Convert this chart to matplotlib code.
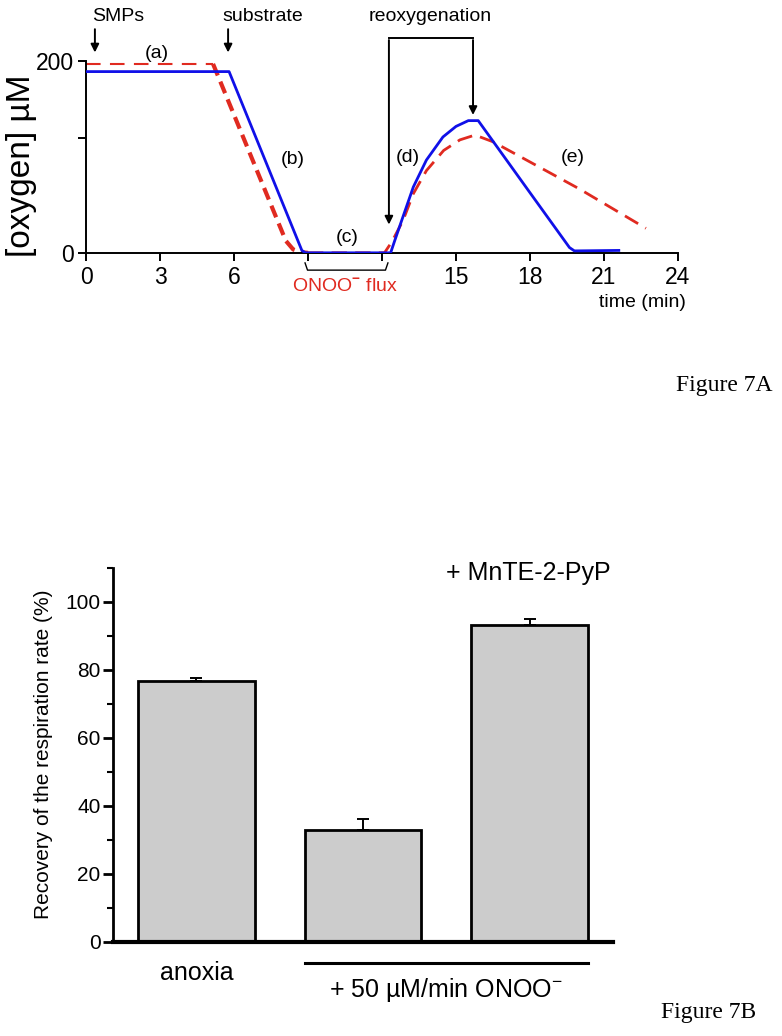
import numpy as np
import matplotlib
matplotlib.use("Agg")
from matplotlib import pyplot as plt

plt.rcParams["font.family"] = ["Liberation Sans", "DejaVu Sans"]
plt.rcParams["mathtext.fontset"] = "custom"
plt.rcParams["mathtext.rm"] = "Liberation Sans"
plt.rcParams["mathtext.bf"] = "Liberation Sans:bold"

# ---- Figure 7A: oxygen traces (time in min, oxygen in uM)
blue_t = [0, 5.8, 8.75, 8.9, 12.35, 12.5, 12.85, 13.27, 13.8, 14.47, 15.0, 15.5, 15.9, 18.0, 19.6, 19.8, 21.6]
blue_o2 = [189, 189, 3, 0.5, 0.5, 12, 38, 69, 97, 121, 132, 138, 138, 63, 6, 2.5, 3]

red_flat_t = [0, 5.15]
red_flat_o2 = [197, 197]
red_drop_t = [5.15, 8.1, 8.4, 8.7, 9.0]
red_drop_o2 = [197, 13, 4, 1.2, 0.5]
red_rest_t = [9.0, 12.1, 12.4, 12.85, 13.27, 13.8, 14.5, 15.16, 15.77, 16.5, 18.0, 20.0, 22.7]
red_rest_o2 = [0.5, 0.5, 12, 34, 62, 86, 107, 118, 123, 116, 95, 67, 26]

time_ticks = [0, 3, 6, 9, 12, 15, 18, 21, 24]
time_labels = ["0", "3", "6", "", "", "15", "18", "21", "24"]

# ---- Figure 7B: recovery of respiration rate (%)
bar_names = ["anoxia", "", ""]
recovery = [76.7, 33.0, 93.1]
recovery_err = [0.8, 3.0, 1.8]

BLUE = "#1010e8"
RED = "#e02a20"

fig = plt.figure(figsize=(7.82, 10.36), dpi=100)

ax = fig.add_axes([0.110, 0.7555, 0.757, 0.1856])
ax.plot(blue_t, blue_o2, color=BLUE, lw=2.0, zorder=3)
ax.plot(red_flat_t, red_flat_o2, color=RED, lw=1.5, dashes=(7, 4.5), zorder=2)
ax.plot(red_drop_t, red_drop_o2, color=RED, lw=3.0, dashes=(3, 1.6), zorder=2)
ax.plot(red_rest_t, red_rest_o2, color=RED, lw=2.0, dashes=(5.5, 3), zorder=2)

ax.set_xlim(0, 24)
ax.set_ylim(0, 200)
for s in ["top", "right"]:
    ax.spines[s].set_visible(False)
for s in ["left", "bottom"]:
    ax.spines[s].set_linewidth(1.4)
ax.set_xticks(time_ticks)
ax.set_xticklabels(time_labels)
ax.set_yticks([0, 120, 200])
ax.set_yticklabels(["0", "", "200"])
ax.tick_params(direction="out", length=6, width=1.4, labelsize=16.5, pad=3)

fig.text(0.027, 0.840, "[oxygen] \u00b5M", rotation=90, fontsize=24,
         ha="center", va="center")
ax.text(24.3, -51, "time (min)", fontsize=14, ha="right", va="center", clip_on=False)

arrow = dict(arrowstyle="-|>", color="k", lw=1.4, mutation_scale=12)
ax.text(1.29, 246, "SMPs", fontsize=14, ha="center", va="center", clip_on=False)
ax.annotate("", xy=(0.36, 206), xytext=(0.36, 236), arrowprops=arrow, annotation_clip=False)
ax.text(7.17, 246, "substrate", fontsize=14, ha="center", va="center", clip_on=False)
ax.annotate("", xy=(5.76, 206), xytext=(5.76, 236), arrowprops=arrow, annotation_clip=False)

ax.text(13.94, 246, "reoxygenation", fontsize=14, ha="center", va="center", clip_on=False)
ax.plot([12.28, 15.69], [224, 224], color="k", lw=1.4, clip_on=False)
ax.annotate("", xy=(12.28, 27), xytext=(12.28, 224.7), arrowprops=arrow, annotation_clip=False)
ax.annotate("", xy=(15.69, 141), xytext=(15.69, 224.7), arrowprops=arrow, annotation_clip=False)

ax.text(2.87, 208, "(a)", fontsize=14, ha="center", va="center", clip_on=False)
ax.text(8.39, 98, "(b)", fontsize=14, ha="center", va="center")
ax.text(10.58, 16, "(c)", fontsize=14, ha="center", va="center")
ax.text(13.05, 100, "(d)", fontsize=14, ha="center", va="center")
ax.text(19.74, 100, "(e)", fontsize=14, ha="center", va="center")

ax.plot([8.88, 8.98, 12.14, 12.24], [-10, -17.5, -17.5, -10], color="k", lw=1.0, clip_on=False)
ax.text(10.5, -35, r"ONOO$^{\mathbf{-}}$ flux", fontsize=14, color=RED,
        ha="center", va="center", clip_on=False)

fig.text(0.988, 0.628, "Figure 7A", fontsize=17, family="Liberation Serif",
         ha="right", va="center")

# ---- bar chart
bx = fig.add_axes([0.1445, 0.0910, 0.6394, 0.361])
pos = np.arange(len(recovery))
bx.bar(pos, recovery, width=0.7, color="#cccccc", edgecolor="k", linewidth=2.0, zorder=2)
bx.errorbar(pos, recovery, yerr=[[0] * len(recovery), recovery_err], fmt="none",
            ecolor="k", elinewidth=1.4, capsize=4, capthick=1.4, zorder=3)
bx.set_xlim(-0.5, 2.5)
bx.set_ylim(0, 110)
for s in ["top", "right"]:
    bx.spines[s].set_visible(False)
bx.spines["left"].set_linewidth(2.0)
bx.spines["bottom"].set_linewidth(3.0)
bx.set_xticks([])
bx.set_yticks([0, 20, 40, 60, 80, 100])
bx.set_yticks([10, 30, 50, 70, 90, 110], minor=True)
bx.tick_params(axis="y", which="major", direction="out", length=7, width=2.0, labelsize=15, pad=2)
bx.tick_params(axis="y", which="minor", direction="out", length=4, width=1.5)
bx.set_ylabel("Recovery of the respiration rate (%)", fontsize=15, labelpad=9)

bx.text(pos[0], -9.2, bar_names[0], fontsize=18, ha="center", va="center", clip_on=False)
bx.plot([pos[1] - 0.35, pos[2] + 0.35], [-6.2, -6.2], color="k", lw=2.2, clip_on=False)
bx.text((pos[1] + pos[2]) / 2, -14.2, "+ 50 \u00b5M/min ONOO$^{-}$", fontsize=18,
        ha="center", va="center", clip_on=False)
bx.text(pos[2] - 0.01, 108.5, "+ MnTE-2-PyP", fontsize=18, ha="center", va="center", clip_on=False)

fig.text(0.967, 0.023, "Figure 7B", fontsize=17, family="Liberation Serif",
         ha="right", va="center")

fig.savefig("out.png", dpi=100)
